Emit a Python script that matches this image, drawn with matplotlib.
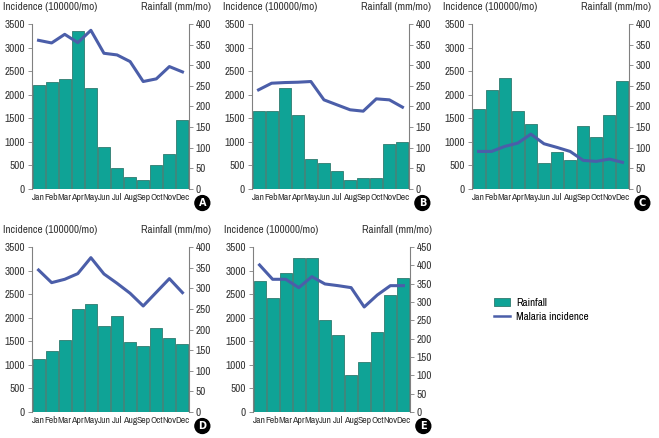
import numpy as np
import matplotlib.pyplot as plt
from matplotlib import font_manager
from matplotlib.patches import Patch
from matplotlib.lines import Line2D

# condensed face if there is one, otherwise plain Liberation Sans a bit smaller
installed = {f.name for f in font_manager.fontManager.ttflist}
if "Archivo Narrow" in installed:
    plt.rcParams['font.family'] = ['Archivo Narrow', 'Liberation Sans', 'DejaVu Sans']
    FS = 8
else:
    plt.rcParams['font.family'] = ['Liberation Sans', 'DejaVu Sans']
    FS = 6.5

months = ["Jan", "Feb", "Mar", "Apr", "May", "Jun",
          "Jul", "Aug", "Sep", "Oct", "Nov", "Dec"]

# rainfall (mm/mo), bars, right axis
rain_a = [252, 259, 266, 383, 244, 102, 51, 30, 22, 58, 84, 168]
rain_b = [188, 188, 244, 179, 73, 63, 43, 22, 27, 27, 109, 115]
rain_c = [194, 240, 268, 189, 157, 63, 89, 70, 153, 125, 179, 263]
rain_d = [128, 148, 174, 250, 263, 209, 233, 169, 160, 203, 179, 164]
rain_e = [357, 312, 380, 419, 419, 251, 210, 100, 136, 217, 319, 365]

# malaria incidence (per 100000/mo), line, left axis
inc_a = [3154, 3098, 3281, 3105, 3366, 2879, 2844, 2703, 2280, 2336, 2597, 2484]
inc_b = [2103, 2244, 2258, 2265, 2280, 1891, 1785, 1680, 1651, 1912, 1891, 1736]
inc_c = [797, 797, 903, 974, 1164, 960, 882, 797, 607, 586, 635, 565]
inc_d = [3012, 2744, 2815, 2935, 3274, 2928, 2730, 2518, 2249, 2539, 2829, 2532]
inc_e = [3119, 2815, 2815, 2638, 2871, 2716, 2680, 2638, 2228, 2482, 2680, 2680]

panels = [
    ("A", rain_a, inc_a, 400, [32, 24]),
    ("B", rain_b, inc_b, 400, [252, 24]),
    ("C", rain_c, inc_c, 400, [472, 24]),
    ("D", rain_d, inc_d, 400, [32, 247]),
    ("E", rain_e, inc_e, 450, [253, 247]),
]

BAR = "#0fa396"
EDGE = "#2f7a6e"
LINE = "#4b5ea9"
SPINE = "#808080"
TXT = "#333333"

W, H = 659, 438
fig = plt.figure(figsize=(W / 100, H / 100), dpi=100)

x = np.arange(len(months))
for letter, rain, inc, rmax, (px, py) in panels:
    aw, ah = 157, 165
    ax = fig.add_axes([px / W, 1 - (py + ah) / H, aw / W, ah / H])
    ax2 = ax.twinx()
    # bars on the rainfall axis, behind the incidence line
    ax2.bar(x, rain, width=0.92, color=BAR, edgecolor=EDGE, linewidth=0.6)
    ax2.set_ylim(0, rmax)
    ax2.set_yticks(np.arange(0, rmax + 1, 50))
    ax.set_zorder(ax2.get_zorder() + 1)
    ax.patch.set_visible(False)
    ax.plot(x, inc, color=LINE, lw=2.2)
    ax.set_ylim(0, 3500)
    ax.set_yticks(np.arange(0, 3501, 500))
    ax.set_xlim(-0.5, 11.5)
    ax.set_xticks(x)
    ax.set_xticklabels(months)

    for a in (ax, ax2):
        for s in ("top", "bottom"):
            a.spines[s].set_visible(False)
        a.spines["left"].set_color(SPINE)
        a.spines["right"].set_color(SPINE)
        a.tick_params(axis="y", labelcolor=TXT, color=SPINE,
                      labelsize=FS, length=3, width=0.6, pad=2)
    ax.spines["right"].set_visible(False)
    ax2.spines["left"].set_visible(False)
    ax.tick_params(axis="x", length=0, labelsize=FS - 1, pad=3,
                   colors=TXT)

    ax.text(-0.185, 1.10, "Incidence (100000/mo)", transform=ax.transAxes,
            fontsize=FS, ha="left", va="center", color=TXT)
    ax.text(1.14, 1.10, "Rainfall (mm/mo)", transform=ax.transAxes,
            fontsize=FS, ha="right", va="center", color=TXT)
    ax.text(1.085, -0.085, letter, transform=ax.transAxes, fontsize=7,
            fontweight="bold", color="white", ha="center", va="center",
            family="DejaVu Sans",
            bbox=dict(boxstyle="circle,pad=0.25", fc="black", ec="black"))

handles = [Patch(facecolor=BAR, edgecolor=EDGE, linewidth=0.6),
           Line2D([0], [0], color=LINE, lw=1.8)]
fig.legend(handles, ["Rainfall", "Malaria incidence"],
           loc="upper left", bbox_to_anchor=(488 / W, 1 - 292 / H),
           frameon=False, fontsize=FS, handlelength=1.5, handleheight=0.8,
           labelspacing=0.35, borderpad=0, handletextpad=0.5)

fig.savefig("out.png", dpi=100)
